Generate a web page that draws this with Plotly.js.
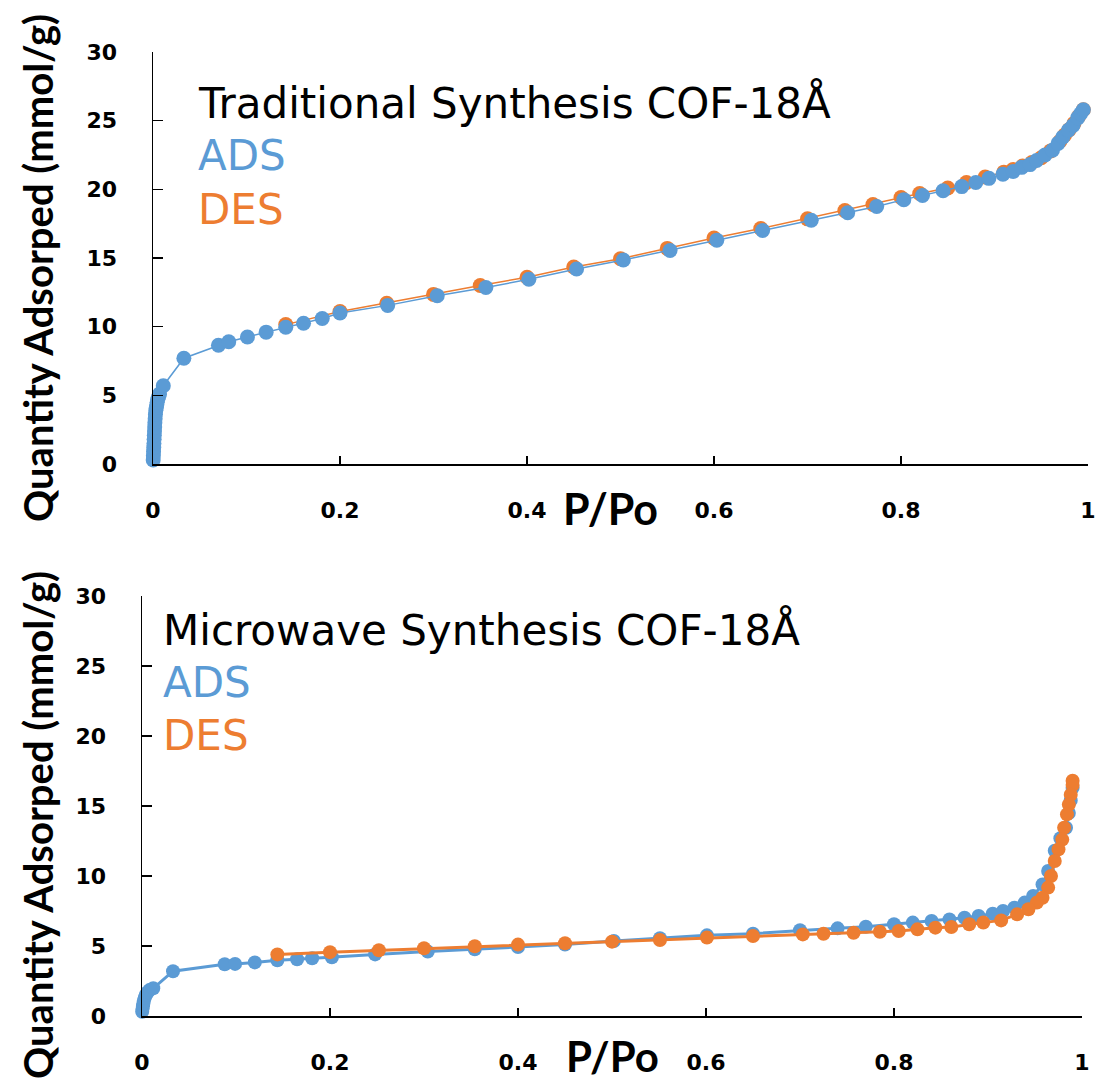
<!DOCTYPE html>
<html>
<head>
<meta charset="utf-8">
<script src="https://cdn.plot.ly/plotly-3.0.1.min.js"></script>
<style>html,body{margin:0;padding:0;background:#fff;}#chart{width:1107px;height:1085px;}</style>
</head>
<body>
<div id="chart"></div>
<script>
// ---------- Data: Traditional synthesis ----------
const tradAdsX = [0.0002,0.0004,0.0006,0.0008,0.001,0.0012,0.0014,0.0016,0.0018,0.002,0.0023,0.0026,0.003,0.0035,0.004,0.0045,0.005,0.006,0.007,0.011,0.033,0.07,0.081,0.101,0.121,0.142,0.161,0.181,0.2,0.251,0.304,0.356,0.402,0.453,0.503,0.553,0.603,0.652,0.704,0.743,0.774,0.803,0.823,0.845,0.865,0.88,0.894,0.909,0.92,0.929,0.938,0.945,0.954,0.962,0.968,0.973,0.979,0.984,0.989,0.992,0.995];
const tradAdsY = [0.3,0.6,0.9,1.2,1.5,1.8,2.1,2.4,2.7,3.0,3.3,3.6,3.9,4.1,4.3,4.5,4.7,4.9,5.1,5.7,7.7,8.65,8.9,9.25,9.6,9.96,10.25,10.6,11.0,11.55,12.25,12.85,13.45,14.2,14.85,15.55,16.3,17.0,17.75,18.3,18.75,19.25,19.55,19.9,20.2,20.5,20.8,21.1,21.3,21.6,21.8,22.1,22.5,22.85,23.35,23.8,24.3,24.65,25.2,25.5,25.8];
const tradDesX = [0.995,0.99,0.985,0.98,0.975,0.97,0.96,0.95,0.94,0.93,0.92,0.91,0.89,0.87,0.85,0.82,0.8,0.77,0.74,0.7,0.65,0.6,0.55,0.5,0.45,0.4,0.35,0.3,0.25,0.2,0.142];
const tradDesY = [25.8,25.3,24.8,24.35,23.95,23.5,22.8,22.3,21.95,21.7,21.45,21.25,20.9,20.5,20.1,19.7,19.4,18.9,18.45,17.85,17.15,16.45,15.7,14.95,14.35,13.6,13.0,12.35,11.7,11.1,10.15];

// ---------- Data: Microwave synthesis ----------
const microAdsX = [0.0002,0.0005,0.001,0.0015,0.002,0.003,0.004,0.006,0.008,0.012,0.033,0.088,0.099,0.12,0.144,0.165,0.181,0.202,0.248,0.304,0.354,0.40,0.45,0.502,0.551,0.601,0.65,0.70,0.74,0.77,0.80,0.82,0.84,0.859,0.875,0.89,0.905,0.916,0.928,0.939,0.948,0.958,0.964,0.971,0.977,0.983,0.986,0.988,0.99];
const microAdsY = [0.3,0.5,0.7,0.9,1.1,1.3,1.5,1.7,1.85,1.98,3.2,3.7,3.72,3.83,3.98,4.05,4.12,4.2,4.4,4.6,4.77,4.92,5.1,5.36,5.55,5.76,5.88,6.12,6.26,6.38,6.55,6.67,6.79,6.9,7.02,7.14,7.3,7.5,7.74,8.1,8.57,9.4,10.36,11.8,12.7,13.45,14.5,15.4,16.3];
const microDesX = [0.99,0.99,0.988,0.986,0.984,0.981,0.979,0.975,0.971,0.967,0.964,0.958,0.952,0.943,0.931,0.914,0.895,0.88,0.861,0.844,0.825,0.805,0.785,0.757,0.725,0.703,0.65,0.601,0.551,0.50,0.45,0.40,0.354,0.30,0.252,0.20,0.144];
const microDesY = [16.8,16.5,15.8,15.1,14.4,13.45,12.6,11.9,11.07,10.0,9.17,8.45,8.1,7.62,7.26,6.83,6.67,6.55,6.36,6.31,6.19,6.07,6.02,5.95,5.88,5.83,5.71,5.6,5.43,5.31,5.2,5.1,4.98,4.84,4.7,4.56,4.4];

// ---------- Labels ----------
const titleTop = "Traditional Synthesis COF-18Å";
const titleBottom = "Microwave Synthesis COF-18Å";
const adsLabel = "ADS";
const desLabel = "DES";
const xTitle = "P/Po";
const yTitle = "Quantity Adsorped (mmol/g)";

const BLUE = "#5B9BD5", ORANGE = "#ED7D31";
const W = 1107, H = 1085;
const px = v => v / W, py = v => 1 - v / H;

const traces = [
  {x: tradDesX, y: tradDesY, xaxis:'x', yaxis:'y', mode:'lines+markers', cliponaxis:false,
   line:{color:ORANGE, width:1.5}, marker:{color:ORANGE, size:15}},
  {x: tradAdsX, y: tradAdsY, xaxis:'x', yaxis:'y', mode:'lines+markers', cliponaxis:false,
   line:{color:BLUE, width:1.5}, marker:{color:BLUE, size:15}},
  {x: microAdsX, y: microAdsY, xaxis:'x2', yaxis:'y2', mode:'lines+markers', cliponaxis:false,
   line:{color:BLUE, width:3}, marker:{color:BLUE, size:14}},
  {x: microDesX, y: microDesY, xaxis:'x2', yaxis:'y2', mode:'lines+markers', cliponaxis:false,
   line:{color:ORANGE, width:3}, marker:{color:ORANGE, size:14}}
];

const tickFont = {family:'"DejaVu Sans", sans-serif', size:22, color:'#000', weight:'bold'};
function xax(d){ return {domain:d, range:[0,1], dtick:0.2, tick0:0, showgrid:false, zeroline:false,
  showline:true, linecolor:'#000', linewidth:1.5, ticks:'inside', ticklen:8, tickcolor:'#000', tickwidth:1.5,
  tickfont:tickFont, ticklabelstandoff:26, fixedrange:true}; }
function yax(d){ return {domain:d, range:[0,30], dtick:5, tick0:0, showgrid:false, zeroline:false,
  showline:true, linecolor:'#000', linewidth:1.5, ticks:'inside', ticklen:10, tickcolor:'#000', tickwidth:1.5,
  tickfont:tickFont, ticklabelstandoff:30, fixedrange:true}; }

const textFont = (c) => ({family:'"DejaVu Sans", sans-serif', size:42, color:c});
const titleFont = (s) => ({family:'Lato, sans-serif', size:s, color:'#000', weight:'bold'});

function ann(text, x, y, font, extra){ return Object.assign({text, x:px(x), y:py(y), xref:'paper', yref:'paper',
  showarrow:false, xanchor:'left', yanchor:'middle', font}, extra||{}); }

const annotations = [
  ann(titleTop, 196, 103, textFont('#000')),
  ann(adsLabel, 196, 156, textFont(BLUE)),
  ann(desLabel, 196, 209, textFont(ORANGE)),
  ann(titleBottom, 161, 630, textFont('#000')),
  ann(adsLabel, 161, 682, textFont(BLUE)),
  ann(desLabel, 161, 735, textFont(ORANGE)),
  ann(xTitle, 610, 509, titleFont(43), {xanchor:'center'}),
  ann(xTitle, 612, 1056, titleFont(42), {xanchor:'center'}),
  ann(yTitle, 38, 268, titleFont(40), {xanchor:'center', textangle:-90}),
  ann(yTitle, 38, 825, titleFont(40), {xanchor:'center', textangle:-90})
];

const layout = {
  width:W, height:H, margin:{l:0,r:0,t:0,b:0}, showlegend:false,
  paper_bgcolor:'#fff', plot_bgcolor:'#fff',
  xaxis: Object.assign(xax([px(153), px(1088)]), {anchor:'y'}),
  yaxis: Object.assign(yax([py(464), py(52)]), {anchor:'x'}),
  xaxis2: Object.assign(xax([px(142), px(1082)]), {anchor:'y2'}),
  yaxis2: Object.assign(yax([py(1016), py(596)]), {anchor:'x2'}),
  annotations
};

Plotly.newPlot('chart', traces, layout, {staticPlot:true, displayModeBar:false});
</script>
</body>
</html>
